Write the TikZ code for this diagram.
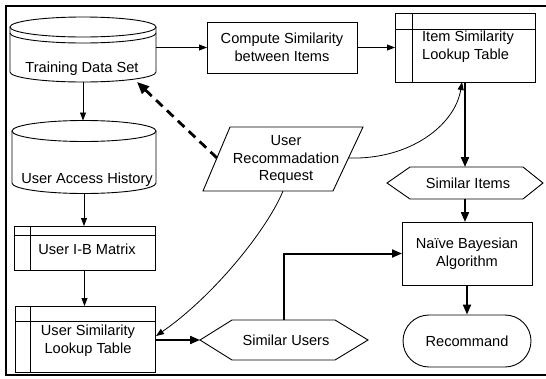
\documentclass[tikz,border=0pt]{standalone}
\usepackage{fontspec}
\setmainfont{Liberation Sans}
\usetikzlibrary{arrows.meta,shapes.misc,calc}
\begin{document}
\begin{tikzpicture}[x=1pt,y=1pt,
  font=\fontsize{14.6}{17.5}\selectfont,
  outl/.style={line width=0.9pt},
  inv/.style={inner sep=0pt, outer sep=0pt, draw=none},
  box/.style={draw, line width=0.9pt, inner sep=0pt, outer sep=0pt, align=center},
  lbl/.style={inner sep=0pt, align=center},
  thinarr/.style={line width=0.8pt, -{Triangle[length=8pt,width=6pt]}},
  thickarr/.style={line width=2pt, -{Triangle[length=10pt,width=8pt]}},
  dasharr/.style={line width=2.8pt, dash pattern=on 9pt off 6pt, -{Triangle[length=12pt,width=10pt]}},
]
\useasboundingbox (0,0) rectangle (546,-378);
\draw[line width=1.2pt] (548,-6) -- (6,-6) -- (6,-375) -- (548,-375);

% Training Data Set
\node[inv, minimum width=146pt, minimum height=65pt] (tds) at (83,-49.5) {};
\draw[outl] (83,-27) ellipse [x radius=73, y radius=10];
\draw[outl] (10,-33) arc[start angle=180, end angle=360, x radius=73, y radius=10];
\draw[outl] (10,-27) -- (10,-72) arc[start angle=180, end angle=360, x radius=73, y radius=10] -- (156,-27);
\node[lbl] (tdsL) at (82,-69) {Training Data Set};
\coordinate (tdsin) at (137,-82);

% User Access History
\node[inv, minimum width=144pt, minimum height=73pt] (uah) at (84,-157) {};
\draw[outl] (84,-131) ellipse [x radius=72, y radius=10.5];
\draw[outl] (12,-131) -- (12,-183) arc[start angle=180, end angle=360, x radius=72, y radius=10.5] -- (156,-131);
\node[lbl] (uahL) at (87,-180) {User Access History};

% User I-B Matrix
\node[box, minimum width=141pt, minimum height=44pt] (ib) at (84.5,-248) {};
\draw[outl] ($(ib.north west)+(0,-9)$) -- ($(ib.north east)+(0,-9)$);
\draw[outl] ($(ib.north west)+(16,0)$) -- ($(ib.south west)+(16,0)$);
\node[lbl] (ibL) at (87,-249) {User I-B Matrix};

% User Similarity Lookup Table
\node[box, minimum width=140pt, minimum height=66pt] (uslt) at (85,-339) {};
\draw[outl] ($(uslt.north west)+(0,-15)$) -- ($(uslt.north east)+(0,-15)$);
\draw[outl] ($(uslt.north west)+(15,0)$) -- ($(uslt.south west)+(15,0)$);
\node[lbl] (usltL) at (88,-340.5) {User Similarity\\Lookup Table};
\coordinate (usltIn) at (156,-336);

% Compute Similarity
\node[box, minimum width=150pt, minimum height=51pt] (comp) at (282,-47.5) {Compute Similarity\\between Items};

% Item Similarity Lookup Table
\node[box, minimum width=140pt, minimum height=69pt] (islt) at (465,-47.5) {};
\draw[outl] ($(islt.north west)+(0,-16)$) -- ($(islt.north east)+(0,-16)$);
\draw[outl] ($(islt.north west)+(17,0)$) -- ($(islt.south west)+(17,0)$);
\node[lbl, align=left] (isltL) at (468,-46.5) {Item Similarity\\Lookup Table};
\coordinate (isltIn) at (462,-82);

% User Recommadation Request
\node[inv, minimum width=160pt, minimum height=64pt] (urr) at (283,-159) {};
\draw[outl] (230,-127) -- (363,-127) -- (333,-191) -- (203,-191) -- cycle;
\node[lbl] (urrL) at (286,-159.5) {User\\Recommadation\\Request};
\coordinate (urrW) at (217,-158);
\coordinate (urrE) at (348.5,-158);
\coordinate (urrS) at (283,-191);

% Similar Items
\node[inv, minimum width=156pt, minimum height=32pt] (si) at (465,-183) {};
\draw[outl] (387,-183) -- (410,-167) -- (523,-167) -- (543,-183) -- (523,-199) -- (410,-199) -- cycle;
\node[lbl] (siL) at (468,-183) {Similar Items};

% Similar Users
\node[inv, minimum width=168pt, minimum height=40pt] (su) at (284,-340) {};
\draw[outl] (200,-340) -- (232,-320) -- (335,-320) -- (368,-340) -- (335,-360) -- (232,-360) -- cycle;
\node[lbl] (suL) at (286,-340) {Similar Users};

% Naive Bayesian
\node[box, minimum width=130pt, minimum height=63pt] (nb) at (467,-253.5) {Naïve Bayesian\\Algorithm};

% Recommand
\node[draw, line width=0.9pt, rounded rectangle, minimum width=128pt, minimum height=52pt, inner sep=0pt] (rec) at (467,-341) {Recommand};

% connectors
\draw[thinarr] (tds.south) -- (tds.south |- uah.north);
\draw[thinarr] (uah.south) -- (uah.south |- ib.north);
\draw[thinarr] (ib.south) -- (ib.south |- uslt.north);
\draw[thinarr] (tds.east |- comp.west) -- (comp.west);
\draw[thinarr] (comp.east) -- (islt.west);
\draw[thickarr] (islt.south) -- (si.north);
\draw[thickarr] (si.south) -- (si.south |- nb.north);
\draw[thickarr] (nb.south) -- (rec.north);
\draw[thickarr] (uslt.east |- su.west) -- (su.west);
\draw[thickarr] (su.north) |- (nb.west);
\draw[dasharr] (urrW) -- (tdsin);
\draw[thinarr] (urrE) .. controls (410,-160) and (455,-125) .. (isltIn);
\draw[thinarr] (urrS) .. controls (268,-228) and (215,-295) .. (usltIn);
\end{tikzpicture}
\end{document}
